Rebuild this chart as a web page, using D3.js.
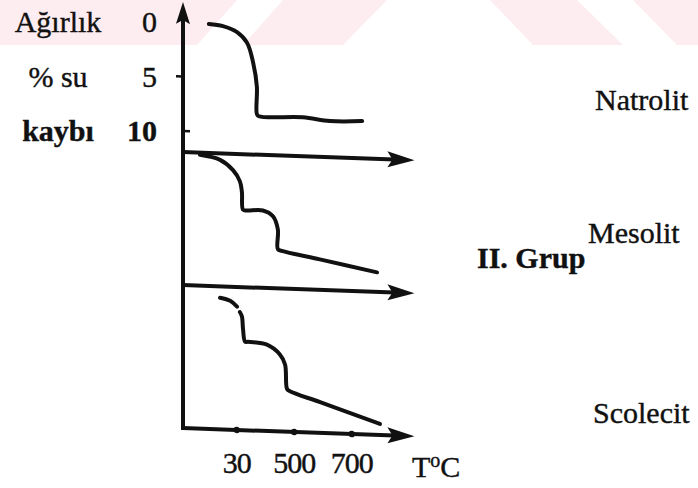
<!DOCTYPE html>
<html>
<head>
<meta charset="utf-8">
<script src="https://cdn.jsdelivr.net/npm/d3@7"></script>
<style>
	body { margin: 0; background: #fff; }
	svg text { font-family: "Liberation Serif", "DejaVu Serif", serif; fill: #111; }
</style>
</head>
<body>
<div id="chart"></div>
<script>
// minerals, one panel each (top to bottom)
const minerals = ["Natrolit", "Mesolit", "Scolecit"];
const groupLabel = "II. Grup";

// y axis: weight % water loss
const yTitle = ["Ağırlık", "% su", "kaybı"];
const yTicks = [0, 5, 10];

// x axis: temperature, labels as printed
const xTicks = [300, 500, 700];
const xTickLabels = ["30", "500", "700"];

// curves: temperature (°C) and weight loss (%)
const natrolitT = [203, 252, 301, 336, 357, 370, 370, 377, 530, 624, 736];
const natrolitLoss = [0.1, 0.25, 0.75, 1.7, 3.5, 5.7, 8.2, 8.4, 8.35, 8.6, 8.5];

const mesolitT = [172, 242, 287, 311, 318, 322, 336, 391, 426, 443, 443, 457, 589, 788];
const mesolitLoss = [0.2, 0.6, 1.5, 2.5, 3.5, 5.1, 5.15, 5.1, 5.6, 6.8, 8.6, 8.75, 9.4, 10.4];

// null = small gap in the printed line
const scolecitT = [242, 277, 301, 305, 311, 318, 322, 329, 339, 405, 450, 468, 475, 485, 590, 798];
const scolecitLoss = [1.05, 1.3, 1.8, null, 2.3, 2.7, 3.9, 5.0, 5.0, 5.2, 6.05, 6.95, 9.2, 9.4, 10.3, 12.1];

const series = [
	{name: "Natrolit", t: natrolitT, v: natrolitLoss},
	{name: "Mesolit", t: mesolitT, v: mesolitLoss},
	{name: "Scolecit", t: scolecitT, v: scolecitLoss}
];

const width = 698, height = 488;
const ink = "#111";
const serif = "Liberation Serif, DejaVu Serif, serif";

const svg = d3.select("#chart").append("svg")
	.attr("width", width)
	.attr("height", height)
	.attr("font-family", serif);

// faint pink watermark band at the top of the scan
const wmBands = [
	[[0, 0], [237, 0], [197, 45], [0, 45]],
	[[283, 0], [387, 0], [343, 45], [243, 45]],
	[[490, 0], [577, 0], [623, 45], [533, 45]],
	[[633, 0], [698, 0], [698, 45], [677, 45]]
];
svg.append("g").selectAll("path")
	.data(wmBands)
	.enter().append("path")
	.attr("d", d => d3.line()(d) + "Z")
	.attr("fill", "#fdedf0");

// scales
const x = d3.scaleLinear().domain([0, 1000]).range([150.5, 438]);
const yLoss = d3.scaleLinear().domain([0, 10]).range([0, 109]);
const panelTop = d3.scaleOrdinal().domain(minerals).range([22, 152, 285]);
const x0 = 183, plotBottom = 428, axisEnd = 918;

// the hand drawn baselines slope down a little: skew the plot
const plot = svg.append("g")
	.attr("transform", `translate(${x0},0) skewY(2.06) translate(${-x0},0)`);

// horizontal arrows under each panel + temperature axis
const baseLines = [panelTop(minerals[1]), panelTop(minerals[2]), plotBottom];
plot.selectAll(".base")
	.data(baseLines)
	.enter().append("line")
	.attr("class", "base")
	.attr("x1", x0).attr("x2", x(axisEnd) - 20)
	.attr("y1", d => d).attr("y2", d => d)
	.attr("stroke", ink).attr("stroke-width", 4);

plot.selectAll(".head")
	.data(baseLines)
	.enter().append("path")
	.attr("class", "head")
	.attr("d", d => {
		const tip = x(axisEnd);
		return `M${tip},${d} L${tip - 27},${d - 8} L${tip - 22},${d} L${tip - 27},${d + 8} Z`;
	})
	.attr("fill", ink);

// vertical axis with arrow
plot.append("line")
	.attr("x1", x0).attr("x2", x0)
	.attr("y1", plotBottom + 2).attr("y2", 18)
	.attr("stroke", ink).attr("stroke-width", 4);
plot.append("path")
	.attr("d", `M${x0},2 L${x0 - 7},24 L${x0},20 L${x0 + 7},24 Z`)
	.attr("fill", ink);

// y ticks (5 left of the axis, 10 right of it, as drawn)
const yPanel1 = v => panelTop(minerals[0]) + yLoss(v);
plot.append("line")
	.attr("x1", x0 - 7).attr("x2", x0)
	.attr("y1", yPanel1(yTicks[1])).attr("y2", yPanel1(yTicks[1]))
	.attr("stroke", ink).attr("stroke-width", 2.5);
plot.append("line")
	.attr("x1", x0).attr("x2", x0 + 7)
	.attr("y1", yPanel1(yTicks[2])).attr("y2", yPanel1(yTicks[2]))
	.attr("stroke", ink).attr("stroke-width", 2.5);

// temperature tick dots
plot.selectAll(".tdot")
	.data(xTicks)
	.enter().append("circle")
	.attr("class", "tdot")
	.attr("cx", d => x(d))
	.attr("cy", plotBottom)
	.attr("r", 3.2)
	.attr("fill", ink);

// the curves
series.forEach(s => {
	const pts = s.t.map((t, i) => ({t: t, v: s.v[i]}));
	const line = d3.line()
		.defined(d => d.v != null)
		.curve(d3.curveCatmullRom.alpha(0.5))
		.x(d => x(d.t))
		.y(d => panelTop(s.name) + yLoss(d.v));
	plot.append("path")
		.datum(pts)
		.attr("d", line)
		.attr("fill", "none")
		.attr("stroke", ink)
		.attr("stroke-width", 4)
		.attr("stroke-linecap", "round")
		.attr("stroke-linejoin", "round");
});

// text helper: scanned print looks a bit heavy
const txt = (sel, size) => sel
	.attr("font-family", serif)
	.attr("font-size", size)
	.attr("stroke", ink)
	.attr("stroke-width", 0.4);

// y axis texts
const yLab = d3.scaleLinear().domain([0, 10]).range([22, 131]);
txt(svg.append("g").selectAll("text")
	.data(yTicks)
	.enter().append("text")
	.attr("x", 157)
	.attr("y", d => yLab(d) + 10)
	.attr("text-anchor", "end")
	.attr("font-weight", (d, i) => i === 2 ? "bold" : "normal")
	.text(d => d), 30);
txt(svg.append("g").selectAll("text")
	.data(yTitle)
	.enter().append("text")
	.attr("x", 58)
	.attr("y", (d, i) => yLab(yTicks[i]) + 10)
	.attr("text-anchor", "middle")
	.attr("font-weight", (d, i) => i === 2 ? "bold" : "normal")
	.text(d => d), 30);

// x tick labels (not skewed, the printed text is level)
txt(svg.append("g").selectAll("text")
	.data(xTicks)
	.enter().append("text")
	.attr("x", d => x(d))
	.attr("y", 473)
	.attr("text-anchor", "middle")
	.attr("letter-spacing", -1)
	.text((d, i) => xTickLabels[i]), 30);

const unit = txt(svg.append("text")
	.attr("x", 412).attr("y", 477), 30);
unit.append("tspan").text("T");
unit.append("tspan").attr("font-size", 20).attr("dy", -10).text("o");
unit.append("tspan").attr("dy", 10).text("C");

// mineral names
const namePos = {
	"Natrolit": [595, 110],
	"Mesolit": [588, 243],
	"Scolecit": [593, 423]
};
txt(svg.append("g").selectAll("text")
	.data(minerals)
	.enter().append("text")
	.attr("x", d => namePos[d][0])
	.attr("y", d => namePos[d][1])
	.text(d => d), 30);

txt(svg.append("text")
	.attr("x", 477).attr("y", 268)
	.attr("font-weight", "bold")
	.text(groupLabel), 30);
</script>
</body>
</html>
